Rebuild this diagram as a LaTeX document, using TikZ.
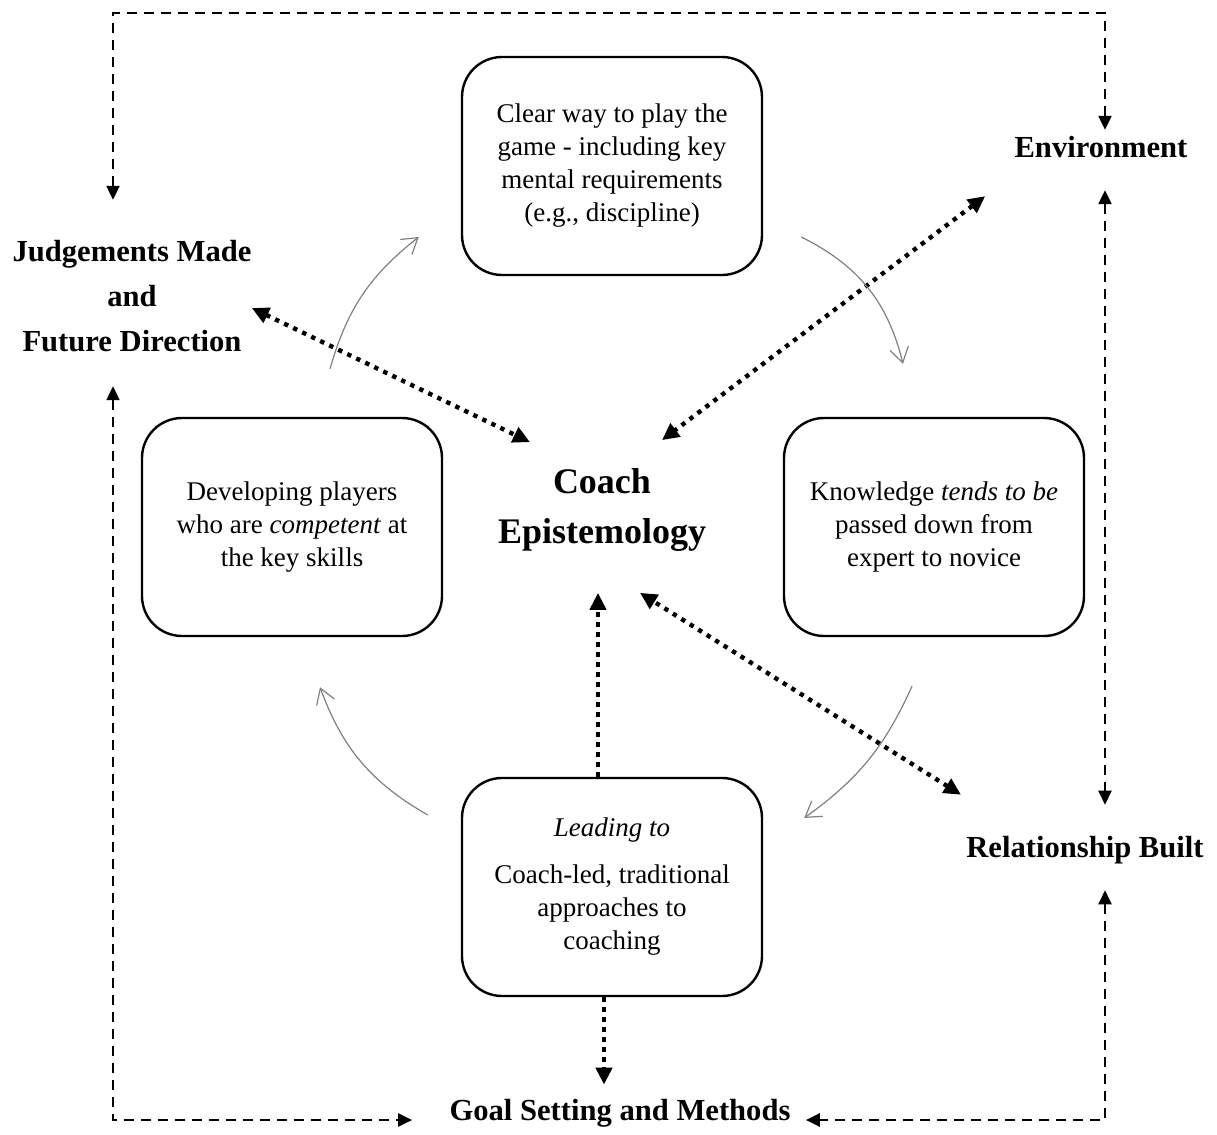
\documentclass[tikz,border=0pt]{standalone}
\usepackage{fontspec}
\setmainfont{Liberation Serif}
\usetikzlibrary{arrows.meta}

\tikzset{
	dashtip/.tip={Triangle[length=7pt,width=6.5pt]},
	dottip/.tip={Triangle[length=8.5pt,width=8pt]},
	stage/.style={draw, line width=1.2pt, rounded corners=20pt, minimum width=150pt, minimum height=109pt, align=center, font={\fontsize{13.5pt}{16.5pt}\selectfont}},
	factor/.style={align=center, inner sep=0pt, font={\fontsize{15.3pt}{22.5pt}\selectfont\bfseries}},
	dashflow/.style={line width=1.1pt, dash pattern=on 5pt off 3.5pt, dashtip-dashtip},
	dotflow/.style={line width=2.2pt, dash pattern=on 2.2pt off 2.8pt, -dottip},
	dotboth/.style={dotflow, dottip-dottip},
	cycleflow/.style={gray, line width=0.6pt, -{Straight Barb[length=7.5pt,width=9.5pt]}}
}

\begin{document}
\begin{tikzpicture}[x=0.5pt, y=-0.5pt]
		\useasboundingbox (0,0) rectangle (1217,1135);
		\node [stage] (play) at (612,166) {Clear way to play the\\game - including key\\mental requirements\\(e.g., discipline)};
		\node [stage] (know) at (934,527) {Knowledge \textit{tends to be}\\passed down from\\expert to novice};
		\node [stage] (lead) at (612,887) {\textit{Leading to}\\[7pt]Coach-led, traditional\\approaches to\\coaching};
		\node [stage] (dev) at (292,527) {Developing players\\who are \textit{competent} at\\the key skills};
		\node [factor, font={\fontsize{18pt}{25pt}\selectfont\bfseries}] (coach) at (602,510) {Coach\\Epistemology};
		\node [factor] (judge) at (132,296) {Judgements Made\\and\\Future Direction};
		\node [factor] (env) at (1101,147) {Environment};
		\node [factor] (rel) at (1085,850) {Relationship Built};
		\node [factor] (goal) at (620,1113) {Goal Setting and Methods};
		\coordinate (nw) at (113,13);
		\coordinate (ne) at (1105,13);
		\coordinate (sw) at (113,1120);
		\coordinate (se) at (1105,1120);
		\draw[dashflow, shorten <=20pt, shorten >=3pt] (nw |- judge.north) -- (nw) -- (ne) -- (ne |- env.north);
		\draw[dashflow, shorten <=16pt, shorten >=15.5pt] (ne |- env.south) -- (ne |- rel.north);
		\draw[dashflow, shorten <=13pt, shorten >=7.5pt] (ne |- rel.south) -- (se) -- (se -| goal.east);
		\draw[dashflow, shorten <=17pt, shorten >=18.5pt] (nw |- judge.south) -- (sw) -- (sw -| goal.west);
		\draw[dotboth] ([yshift=-6pt]judge.east) -- ([xshift=-36pt,yshift=13pt]coach.north);
		\draw[dotboth] ([xshift=-14.5pt,yshift=-19pt]env.south west) -- ([xshift=30pt,yshift=14pt]coach.north);
		\draw[dotboth] ([xshift=-2.5pt,yshift=20.5pt]rel.north west) -- ([xshift=19pt,yshift=-20.5pt]coach.south);
		\draw[dotflow] ([xshift=-7pt]lead.north) -- ([xshift=-2pt,yshift=-20.5pt]coach.south);
		\draw[dotflow, shorten >=7pt] ([xshift=-4pt]lead.south) -- ([xshift=-4pt]lead.south |- goal.north);
		\draw[cycleflow] ([xshift=19pt,yshift=24pt]dev.north) to[bend left=18] ([xshift=-21pt,yshift=-35.5pt]play.west);
		\draw[cycleflow] ([xshift=19pt,yshift=-35.5pt]play.east) to[bend left=25] ([xshift=-15.5pt,yshift=26.5pt]know.north);
		\draw[cycleflow] ([xshift=-11pt,yshift=-24.5pt]know.south) to[bend left=15] ([xshift=20.5pt,yshift=34.5pt]lead.east);
		\draw[cycleflow] ([xshift=-16.5pt,yshift=36pt]lead.west) to[bend left=20] ([xshift=14pt,yshift=-25pt]dev.south);
	\end{tikzpicture}
\end{document}
